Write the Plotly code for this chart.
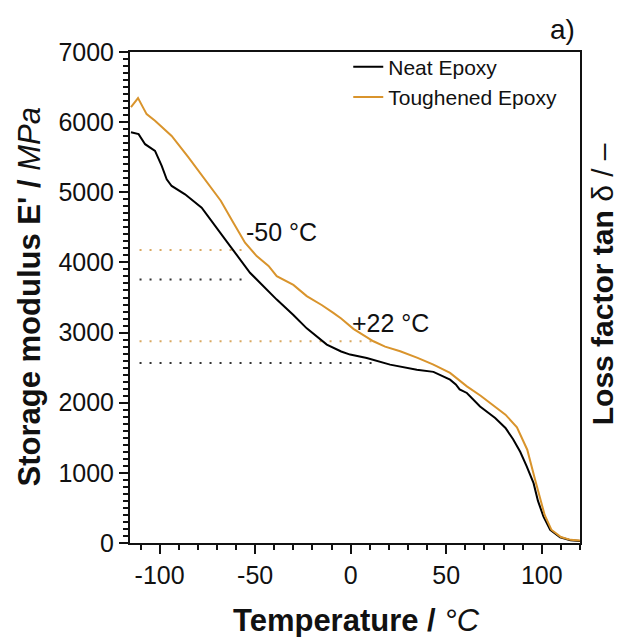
import plotly.graph_objects as go

# ---- data ----
neat_T = [-115, -111, -107.6, -102.4, -98.9, -96.3, -93.7, -86.7, -78, -71, -63.1, -52.7,
          -45, -38.7, -30, -23, -12.5, -5, -0.3, 8.4, 20.6, 34.6, 43.3, 49, 52, 55, 57,
          60.8, 67.7, 75.6, 81, 85, 88.7, 92, 95.7, 98, 100.9, 104.4, 109.6, 115, 120]
neat_E = [5857, 5829, 5686, 5590, 5376, 5186, 5090, 4971, 4781, 4519, 4233, 3853,
          3640, 3470, 3250, 3060, 2829, 2730, 2686, 2638, 2543, 2471, 2440, 2370, 2329, 2260, 2190,
          2139, 1947, 1781, 1640, 1480, 1300, 1100, 853, 600, 376, 186, 81, 40, 30]

tough_T = [-115, -111.3, -108.5, -106.8, -102.4, -93.7, -85, -76.2, -68, -61.4, -55.3, -49.2,
           -43, -38.7, -30, -23, -15, -9.1, -5, 1.4, 6, 11.9, 18, 25.9, 35, 43.3, 52,
           60.8, 68, 75.6, 81, 87, 92.4, 96.5, 101.5, 105, 110, 115, 120]
tough_E = [6214, 6343, 6200, 6114, 6019, 5804, 5500, 5186, 4880, 4567, 4281, 4090,
           3950, 3804, 3680, 3520, 3390, 3281, 3200, 3053, 2970, 2876, 2800, 2733, 2640, 2543, 2424,
           2233, 2100, 1947, 1830, 1650, 1330, 900, 400, 190, 85, 45, 35]

# reference levels (dotted guides)
guide_start_T = -110.5
guide_end_T = [-55.3, 11.9]
guide_neat_E = [3757, 2567]
guide_tough_E = [4176, 2876]
marker_labels = ["-50 °C", "+22 °C"]

# negative tick labels use a plain hyphen as in the reference
x_label_alias = {"\u2212100": "-100", "\u221250": "-50"}

X_RANGE = [-115.5, 120]
Y_RANGE = [0, 7000]

BLACK = "#000000"
ORANGE = "#D9942C"
FONT = "Liberation Sans, Arial, sans-serif"

fig = go.Figure()

for end, yn, yt in zip(guide_end_T, guide_neat_E, guide_tough_E):
    fig.add_trace(go.Scatter(x=[guide_start_T, end], y=[yt, yt], mode="lines",
                             line=dict(color="#D9A860", width=2, dash="2px,8px"),
                             showlegend=False, hoverinfo="skip"))
    fig.add_trace(go.Scatter(x=[guide_start_T, end], y=[yn, yn], mode="lines",
                             line=dict(color="#333333", width=2, dash="2px,8px"),
                             showlegend=False, hoverinfo="skip"))

fig.add_trace(go.Scatter(x=neat_T, y=neat_E, mode="lines", name="Neat Epoxy",
                         line=dict(color=BLACK, width=2)))
fig.add_trace(go.Scatter(x=tough_T, y=tough_E, mode="lines", name="Toughened Epoxy",
                         line=dict(color=ORANGE, width=2)))

tickfont = dict(family=FONT, size=25, color="#111")

fig.update_layout(
    template="simple_white",
    xaxis=dict(range=X_RANGE, tickmode="linear", tick0=0, dtick=50, labelalias=x_label_alias,
               showline=True, linecolor="#111", linewidth=2, mirror=True,
               ticks="outside", ticklen=9, tickwidth=2, tickcolor="#111",
               minor=dict(tickmode="linear", dtick=10, tick0=0, ticks="outside", ticklen=5,
                          tickwidth=1.5, tickcolor="#111", showgrid=False),
               showgrid=False, zeroline=False, tickfont=tickfont),
    yaxis=dict(range=Y_RANGE, tickmode="linear", tick0=0, dtick=1000,
               showline=True, linecolor="#111", linewidth=2, mirror=True,
               ticks="outside", ticklen=9, tickwidth=2, tickcolor="#111",
               minor=dict(tickmode="linear", dtick=100, tick0=0, ticks="outside", ticklen=5,
                          tickwidth=1.5, tickcolor="#111", showgrid=False),
               showgrid=False, zeroline=False, tickfont=tickfont),
)

ann = []
ann.append(dict(text="<b>Temperature /</b> <i>°C</i>", xref="paper", yref="paper",
                x=0.504, y=0, yshift=-77, xanchor="center", yanchor="middle", showarrow=False,
                font=dict(family=FONT, size=31, color="#111")))
ann.append(dict(text="<b>Storage modulus E' /</b> <i>MPa</i>", xref="paper", yref="paper",
                x=0, xshift=-101, y=0.5, textangle=-90, xanchor="center", yanchor="middle",
                showarrow=False, font=dict(family=FONT, size=31, color="#111")))
ann.append(dict(text="<b>Loss factor tan </b>δ / –", xref="paper", yref="paper",
                x=1, xshift=22, y=0.527, textangle=-90, xanchor="center", yanchor="middle",
                showarrow=False, font=dict(family=FONT, size=30, color="#111")))
ann.append(dict(text="a)", xref="paper", yref="paper", x=0.96, y=1.045,
                xanchor="center", yanchor="middle", showarrow=False,
                font=dict(family=FONT, size=28, color="#111")))
ann.append(dict(text=marker_labels[0], x=-36.2, y=4429, xanchor="center", yanchor="middle",
                showarrow=False, font=dict(family=FONT, size=25, color="#111")))
ann.append(dict(text=marker_labels[1], x=20.6, y=3139, xanchor="center", yanchor="middle",
                showarrow=False, font=dict(family=FONT, size=25, color="#111")))

fig.update_layout(
    width=619, height=637,
    margin=dict(l=130, r=39, t=52, b=94),
    plot_bgcolor="white", paper_bgcolor="white",
    annotations=ann,
    legend=dict(x=0.485, y=1.011, xanchor="left", yanchor="top", bgcolor="rgba(0,0,0,0)",
                borderwidth=0, font=dict(family=FONT, size=21, color="#111"),
                tracegroupgap=0, itemwidth=30),
)

fig.write_html("out.html")
